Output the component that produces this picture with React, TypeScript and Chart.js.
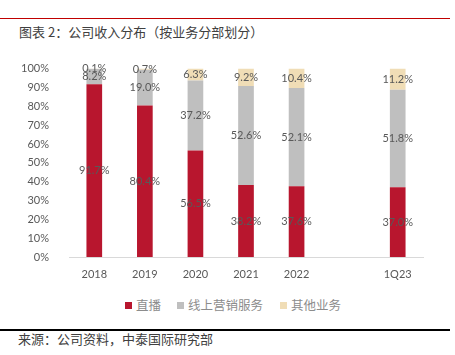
import React, { useEffect, useRef } from "react";
import { Chart, registerables } from "chart.js";

Chart.register(...registerables);

const categories = ["2018", "2019", "2020", "2021", "2022", "", "1Q23"];
const liveStreaming = [91.7, 80.4, 56.5, 38.2, 37.6, null, 37.0];
const onlineMarketing = [8.2, 19.0, 37.2, 52.6, 52.1, null, 51.8];
const otherBusiness = [0.1, 0.7, 6.3, 9.2, 10.4, null, 11.2];
const seriesNames = ["直播", "线上营销服务", "其他业务"];
const seriesColors = ["#B8162E", "#BFBFBF", "#F0DDB6"];
const yTicks = [0, 10, 20, 30, 40, 50, 60, 70, 80, 90, 100];

const NUM_FONT = "Lato, 'Noto Sans CJK SC', sans-serif";
const CJK_FONT = "'Noto Sans CJK SC', sans-serif";

const labelPlugin = {
  id: "segLabels",
  afterDatasetsDraw(chart: any) {
    const ctx = chart.ctx;
    ctx.save();
    ctx.font = `11px ${NUM_FONT}`;
    ctx.fillStyle = "#595959";
    ctx.textAlign = "center";
    ctx.textBaseline = "middle";
    chart.data.datasets.forEach((ds: any, di: number) => {
      const meta = chart.getDatasetMeta(di);
      meta.data.forEach((el: any, i: number) => {
        const v = ds.data[i];
        if (v === null || v === undefined) return;
        const p = el.getProps(["x", "y", "base"], true);
        ctx.fillText(v.toFixed(1) + "%", p.x, (p.y + p.base) / 2);
      });
    });
    ctx.restore();
  },
};

export default function App() {
  const ref = useRef<HTMLCanvasElement>(null);
  useEffect(() => {
    document.body.style.margin = "0";
    const chart = new Chart(ref.current!, {
      type: "bar",
      data: {
        labels: categories,
        datasets: seriesNames.map((name, k) => ({
          label: name,
          data: [liveStreaming, onlineMarketing, otherBusiness][k],
          backgroundColor: seriesColors[k],
        })),
      },
      options: {
        animation: false,
        responsive: false,
        maintainAspectRatio: false,
        layout: { padding: { left: 0, right: 32, top: 10, bottom: 0 } },
        datasets: { bar: { barPercentage: 0.31, categoryPercentage: 1.0 } } as any,
        scales: {
          x: {
            stacked: true,
            grid: { display: false },
            border: { color: "#D9D9D9" },
            afterFit: (s: any) => { s.height = 33; },
            ticks: { color: "#595959", font: { family: NUM_FONT, size: 11 }, padding: 3 },
          },
          y: {
            stacked: true,
            min: 0,
            max: 100,
            afterFit: (s: any) => { s.width = 69; },
            afterBuildTicks: (s: any) => { s.ticks = yTicks.map((v) => ({ value: v })); },
            grid: { display: false },
            border: { display: false },
            ticks: {
              color: "#595959",
              font: { family: NUM_FONT, size: 11 },
              padding: 12,
              callback: (v: any) => v + "%",
            },
          },
        },
        plugins: {
          legend: { display: false },
          tooltip: { enabled: false },
        },
      },
      plugins: [labelPlugin],
    });
    return () => chart.destroy();
  }, []);

  const legendLefts = [125, 177, 280];

  return (
    <div style={{ position: "relative", width: 455, height: 355, background: "#fff", overflow: "hidden" }}>
      <div style={{ position: "absolute", left: 0, top: 18, width: 450, height: 1, background: "#C00000" }} />
      <div
        style={{
          position: "absolute",
          left: 19,
          top: 23,
          fontFamily: CJK_FONT,
          fontSize: 13,
          color: "#404040",
          whiteSpace: "nowrap",
          lineHeight: "18px",
        }}
      >
        图表 2：公司收入分布（按业务分部划分）
      </div>
      <canvas ref={ref} width={455} height={240} style={{ position: "absolute", left: 0, top: 50 }} />
      {seriesNames.map((name, k) => (
        <div
          key={name}
          style={{
            position: "absolute",
            left: legendLefts[k],
            top: 296,
            height: 18,
            display: "flex",
            alignItems: "center",
            whiteSpace: "nowrap",
          }}
        >
          <span style={{ display: "inline-block", width: 7, height: 7, background: seriesColors[k], marginRight: 4 }} />
          <span style={{ fontFamily: CJK_FONT, fontSize: 12.5, color: "#8C8C8C", lineHeight: "18px" }}>{name}</span>
        </div>
      ))}
      <div style={{ position: "absolute", left: 0, top: 329, width: 450, height: 1.5, background: "#000" }} />
      <div
        style={{
          position: "absolute",
          left: 18,
          top: 330,
          fontFamily: CJK_FONT,
          fontSize: 13,
          color: "#404040",
          whiteSpace: "nowrap",
          lineHeight: "18px",
        }}
      >
        来源：公司资料，中泰国际研究部
      </div>
    </div>
  );
}
